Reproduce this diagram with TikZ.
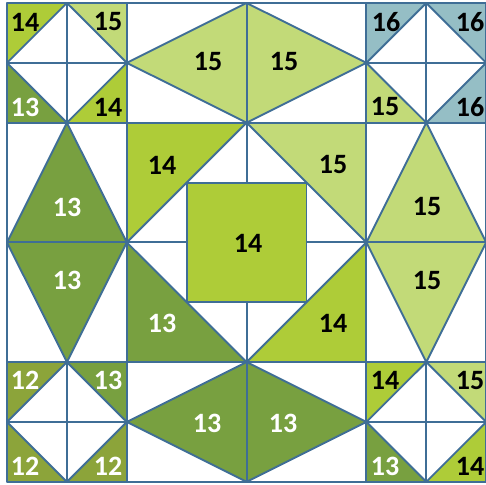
\documentclass[tikz,border=0pt]{standalone}
\usepackage{fontspec}
\setmainfont{Carlito}
\definecolor{cA}{RGB}{140,164,58}   % 12
\definecolor{cB}{RGB}{120,160,64}   % 13
\definecolor{cC}{RGB}{174,204,56}   % 14
\definecolor{cD}{RGB}{194,218,120}  % 15
\definecolor{cE}{RGB}{149,190,197}  % 16
\definecolor{edge}{RGB}{63,110,150}
\tikzset{
  ln/.style={draw=edge,line width=1.9pt,line join=round},
  lab/.style={font=\fontsize{28}{28}\selectfont\bfseries,inner sep=0pt,text=black},
  wlab/.style={lab,text=white}
}
\newcommand{\cornerblock}[6]{% a b colTL colTR colBL colBR
  \fill[#3] (#1,#2) -- (#1+1,#2) -- (#1,#2+1) -- cycle;
  \fill[#4] (#1+1,#2) -- (#1+2,#2) -- (#1+2,#2+1) -- cycle;
  \fill[#5] (#1,#2+1) -- (#1,#2+2) -- (#1+1,#2+2) -- cycle;
  \fill[#6] (#1+2,#2+1) -- (#1+2,#2+2) -- (#1+1,#2+2) -- cycle;
  \draw[ln] (#1,#2) rectangle (#1+2,#2+2);
  \draw[ln] (#1+1,#2) -- (#1+2,#2+1) -- (#1+1,#2+2) -- (#1,#2+1) -- cycle;
  \draw[ln] (#1+1,#2) -- (#1+1,#2+2);
  \draw[ln] (#1,#2+1) -- (#1+2,#2+1);
}
\begin{document}
\begin{tikzpicture}[x=59.9pt,y=-59.85pt]
\useasboundingbox (-0.11686,-0.05013) rectangle (7.99666,8.03676);
\fill[white] (-0.11686,-0.05013) rectangle (7.99666,8.03676);
% corner blocks
\cornerblock{0}{0}{cC}{cD}{cB}{cC}
\cornerblock{6}{0}{cE}{cE}{cD}{cE}
\cornerblock{0}{6}{cA}{cB}{cA}{cA}
\cornerblock{6}{6}{cC}{cD}{cB}{cC}
% top block
\fill[cD] (2,1) -- (4,0) -- (6,1) -- (4,2) -- cycle;
\draw[ln] (2,0) rectangle (6,2);
\draw[ln] (2,1) -- (4,0) -- (6,1) -- (4,2) -- cycle;
\draw[ln] (4,0) -- (4,2);
% bottom block
\fill[cB] (2,7) -- (4,6) -- (6,7) -- (4,8) -- cycle;
\draw[ln] (2,6) rectangle (6,8);
\draw[ln] (2,7) -- (4,6) -- (6,7) -- (4,8) -- cycle;
\draw[ln] (4,6) -- (4,8);
% left block
\fill[cB] (1,2) -- (2,4) -- (1,6) -- (0,4) -- cycle;
\draw[ln] (0,2) rectangle (2,6);
\draw[ln] (1,2) -- (2,4) -- (1,6) -- (0,4) -- cycle;
\draw[ln] (0,4) -- (2,4);
% right block
\fill[cD] (7,2) -- (8,4) -- (7,6) -- (6,4) -- cycle;
\draw[ln] (6,2) rectangle (8,6);
\draw[ln] (7,2) -- (8,4) -- (7,6) -- (6,4) -- cycle;
\draw[ln] (6,4) -- (8,4);
% centre block
\fill[cC] (2,2) -- (4,2) -- (2,4) -- cycle;
\fill[cD] (4,2) -- (6,2) -- (6,4) -- cycle;
\fill[cB] (2,4) -- (2,6) -- (4,6) -- cycle;
\fill[cC] (6,4) -- (6,6) -- (4,6) -- cycle;
\fill[cC] (3,3) rectangle (5,5);
\draw[ln] (2,2) rectangle (6,6);
\draw[ln] (4,2) -- (6,4) -- (4,6) -- (2,4) -- cycle;
\draw[ln] (3,3) rectangle (5,5);
\draw[ln] (4,2) -- (4,3);
\draw[ln] (4,5) -- (4,6);
\draw[ln] (2,4) -- (3,4);
\draw[ln] (5,4) -- (6,4);
% labels (positions in image px)
\begin{scope}[x=1pt,y=-1pt,shift={(-7,-3)}]
\node[lab]  (a1) at (25,22)  {14};
\node[lab]  (a2) at (108,22) {15};
\node[wlab] (a3) at (25,107) {13};
\node[lab]  (a4) at (108,107){14};
\node[lab]  (b1) at (386,22) {16};
\node[lab]  (b2) at (470,22) {16};
\node[lab]  (b3) at (385,107){15};
\node[lab]  (b4) at (470,107){16};
\node[wlab] (c1) at (25,380) {12};
\node[wlab] (c2) at (108,380){13};
\node[wlab] (c3) at (25,466) {12};
\node[wlab] (c4) at (108,466){12};
\node[lab]  (d1) at (385,380){14};
\node[lab]  (d2) at (470,380){15};
\node[wlab] (d3) at (385,466){13};
\node[lab]  (d4) at (470,466){14};
\node[lab]  (t1) at (208,62) {15};
\node[lab]  (t2) at (284,62) {15};
\node[wlab] (u1) at (207,423){13};
\node[wlab] (u2) at (283,423){13};
\node[wlab] (l1) at (67,207) {13};
\node[wlab] (l2) at (67,280) {13};
\node[lab]  (r1) at (427,207){15};
\node[lab]  (r2) at (427,280){15};
\node[lab]  (m1) at (162,165){14};
\node[lab]  (m2) at (333,165){15};
\node[lab]  (m3) at (248,243){14};
\node[wlab] (m4) at (162,323){13};
\node[lab]  (m5) at (333,323){14};
\end{scope}
\end{tikzpicture}
\end{document}
